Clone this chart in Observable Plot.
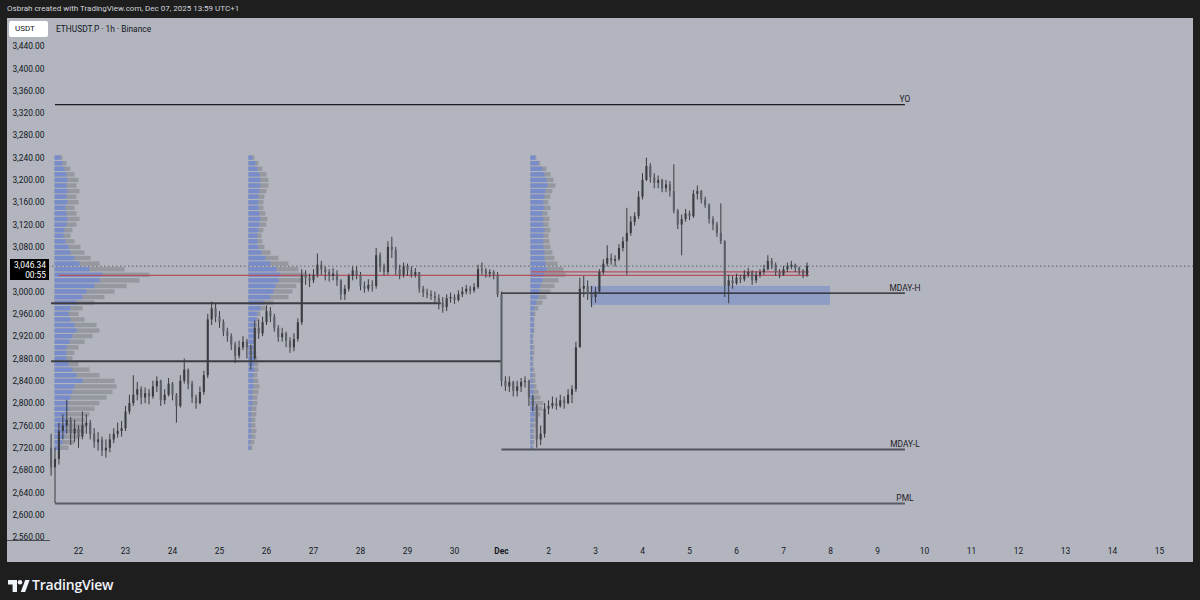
<!DOCTYPE html>
<html><head><meta charset="utf-8">
<script src="https://cdn.jsdelivr.net/npm/d3@7"></script>
<script src="https://cdn.jsdelivr.net/npm/@observablehq/plot@0.6"></script>
<style>
html,body{margin:0;padding:0;}
body{background:#1e1e1e;width:1200px;height:600px;overflow:hidden;position:relative;font-family:Roboto,"Liberation Sans",sans-serif;}
#header{position:absolute;left:7px;top:4px;font-size:8px;color:#d1d4dc;white-space:nowrap;}
#panel{position:absolute;left:7px;top:18px;width:1186px;height:544px;background:#b2b5be;overflow:hidden;}
#chart{position:absolute;left:0;top:0;}
#sym{position:absolute;left:49px;top:6px;font-size:8.4px;color:#131722;white-space:nowrap;}
#usdt{position:absolute;left:2px;top:3px;width:39px;height:16px;background:#fff;border-radius:2px;font-size:8px;color:#131722;line-height:16px;text-indent:6px;}
#pricebox{position:absolute;left:3px;width:39px;height:21px;background:#000;color:#fff;font-size:8.4px;line-height:10px;text-align:right;box-sizing:border-box;padding:1px 3px 0 0;}
#ybase{position:absolute;left:0;top:522px;width:43px;height:1px;background:#4a4d55;}
#logo{position:absolute;left:8px;top:580px;}
#logotext{position:absolute;left:32px;top:575px;font-size:14px;font-weight:600;color:#f0f3fa;font-family:"Open Sans",Roboto,sans-serif;letter-spacing:-0.2px;}
</style></head>
<body>
<div id="header">Osbrah created with TradingView.com, Dec 07, 2025 13:59 UTC+1</div>
<div id="panel">
  <div id="chart"></div>
  <div id="usdt">USDT</div>
  <div id="sym">ETHUSDT.P · 1h · Binance</div>
  <div id="ybase"></div>
</div>
<svg id="logo" width="22" height="12" viewBox="0 0 22 12">
  <path d="M0 0h9v12H4.6V4.4H0z" fill="#f0f3fa"/>
  <circle cx="12" cy="2.3" r="2.3" fill="#f0f3fa"/>
  <path d="M12.8 12L17.2 0H21.6L17.2 12z" fill="#f0f3fa"/>
</svg>
<div id="logotext">TradingView</div>
<script>
// ---- data ----
const candleStart = "2025-11-21T10:00:00Z"; // 2h candles
const candleHours = 2;
const firstOpen = 2720;
const closes = [
2685,2700,2750,2760,2770,2745,2755,2740,2760,2765,
2745,2730,2735,2715,2720,2735,2745,2750,2755,2785,
2800,2815,2825,2810,2818,2812,2830,2840,2805,2815,
2835,2815,2795,2840,2860,2835,2810,2800,2820,2850,
2950,2970,2955,2945,2928,2920,2905,2885,2900,2910,
2900,2880,2935,2925,2945,2965,2955,2935,2918,2925,
2912,2900,2915,2945,3030,3025,3020,3030,3048,3040,
3035,3028,3032,3020,2995,3005,3028,3038,3030,3010,
3005,3012,3010,3065,3045,3035,3080,3075,3040,3030,
3045,3038,3030,3035,3005,2998,2995,2992,2988,2980,
2972,2988,2990,2985,2995,3000,3005,3002,3008,3040,
3038,3032,3035,3030,2995,2840,2830,2838,2822,2830,
2838,2840,2810,2795,2735,2745,2790,2795,2800,2795,
2805,2800,2815,2825,2900,3005,3010,2995,2990,3000,
3035,3050,3060,3055,3058,3078,3090,3105,3125,3135,
3170,3200,3225,3205,3195,3200,3185,3192,3180,3145,
3120,3130,3140,3135,3175,3180,3165,3155,3130,3120,
3105,3090,3010,3020,3015,3025,3022,3030,3035,3020,
3030,3035,3040,3055,3048,3035,3030,3040,3045,3048,
3042,3038,3030,3046.34];
const highs = [
2745,2720,2765,2780,2806,2775,2770,2760,2785,2780,
2770,2755,2748,2740,2735,2745,2755,2765,2768,2795,
2815,2850,2838,2830,2828,2825,2840,2848,2842,2825,
2845,2838,2818,2850,2880,2862,2840,2815,2830,2858,
2960,2982,2978,2965,2950,2935,2925,2910,2912,2920,
2915,2905,2948,2950,2955,2975,2972,2960,2940,2935,
2928,2918,2925,2952,3040,3038,3032,3040,3068,3055,
3045,3040,3042,3038,3022,3012,3032,3045,3045,3035,
3018,3022,3020,3078,3070,3050,3090,3098,3080,3048,
3052,3050,3045,3042,3035,3010,3005,3002,3000,2995,
2990,2995,2998,2995,3002,3008,3012,3010,3015,3048,
3052,3042,3040,3038,3035,3000,2848,2848,2840,2840,
2845,2848,2842,2815,2798,2760,2800,2805,2812,2810,
2815,2812,2825,2832,2910,3025,3028,3020,3010,3008,
3040,3058,3083,3068,3065,3085,3098,3150,3135,3142,
3180,3212,3240,3230,3212,3208,3202,3200,3198,3228,
3148,3138,3148,3145,3182,3190,3182,3170,3158,3135,
3125,3158,3092,3030,3028,3032,3030,3038,3042,3038,
3036,3040,3048,3065,3060,3052,3040,3046,3052,3055,
3050,3045,3040,3052];
const lows = [
2670,2621,2690,2735,2745,2725,2730,2720,2735,2745,
2735,2720,2715,2705,2702,2712,2728,2738,2740,2750,
2780,2795,2805,2798,2800,2798,2808,2820,2795,2798,
2812,2805,2765,2792,2835,2825,2800,2790,2798,2815,
2845,2940,2945,2935,2920,2910,2895,2872,2880,2895,
2880,2860,2878,2915,2920,2940,2945,2928,2910,2910,
2900,2890,2893,2910,2940,3012,3008,3015,3025,3030,
3020,3018,3020,3010,2985,2985,3000,3020,3022,3002,
2998,3000,3000,3005,3035,3028,3030,3060,3030,3022,
3025,3028,3025,3025,2998,2990,2988,2985,2980,2968,
2962,2965,2980,2978,2982,2990,2995,2995,2998,3005,
3030,3025,3025,3022,2990,2830,2822,2820,2812,2812,
2820,2828,2795,2785,2720,2725,2738,2780,2790,2788,
2792,2790,2798,2800,2820,2950,2990,2985,2972,2980,
2998,3030,3045,3048,3045,3055,3072,3030,3100,3118,
3130,3165,3198,3195,3185,3185,3178,3178,3170,3140,
3112,3065,3125,3128,3132,3165,3158,3150,3122,3110,
3098,3085,2990,2979,3005,3012,3015,3018,3025,3012,
3015,3025,3030,3038,3040,3028,3024,3028,3035,3040,
3035,3030,3024,3026];

const lastPrice = 3046.34;
const lastPriceLabel = "3,046.34";
const countdownLabel = "00:55";

// volume profiles (price rows every 10, top to bottom)
const profileTop = 3240, profileStep = 10;
const profileAnchors = ["2025-11-21T12:00:00Z","2025-11-25T15:00:00Z","2025-12-01T15:00:00Z"];
const profile1Total = [8,12,16,20,24,22,25,22,24,20, 22,25,22,18,16,20,26,30,36,45, 70,95,85,72,60,50,40,28,24,30, 42,45,38,30,24,20,18,24,35,45, 60,62,58,52,45,40,35,30,32,30, 26,20,14];
const profile1Up =    [6,8,10,12,13,12,13,12,13,11, 12,13,12,10,9,11,14,16,20,25, 35,48,45,40,32,28,22,16,14,16, 20,22,18,15,12,12,12,14,18,22, 28,20,18,16,14,14,12,12,12,12, 10,8,6];
const profile2Total = [6,10,14,18,20,20,18,16,15,15, 17,19,18,15,13,14,16,22,30,40, 50,58,55,48,44,40,25,18,12,10, 9,8,8,7,7,8,9,10,10,9, 10,11,10,9,9,8,8,7,7,8, 7,6,4];
const profile2Up =    [4,7,9,11,12,12,11,10,10,10, 11,12,11,10,9,9,10,13,17,22, 28,32,30,27,25,22,15,12,9,8, 7,6,6,5,5,5,6,6,6,5, 5,5,4,4,4,3,3,3,3,3, 3,2,2];
const profile3Total = [6,10,16,20,23,25,22,20,18,20, 17,19,18,20,18,19,20,22,24,27, 33,35,28,24,20,16,12,8,5,4, 4,4,3,3,4,4,3,3,4,5, 5,6,8,10,13,12,10,7,5,4, 4,4,3];
const profile3Up =    [5,8,12,14,16,17,15,14,13,14, 12,13,13,14,13,13,13,14,14,15, 16,14,12,10,9,8,6,4,3,3, 3,3,2,2,2,2,2,2,2,2, 2,3,3,3,4,4,4,3,2,2, 2,2,2];

// horizontal levels
const levelNames  = ["YO","MDAY-H","MDAY-L","PML","",""];
const levelValues = [3336, 2998, 2718, 2621, 2980, 2876];
const levelStarts = ["2025-11-21T12:00:00Z","2025-12-01T00:00:00Z","2025-12-01T00:00:00Z","2025-11-21T12:00:00Z","2025-11-21T10:00:00Z","2025-11-21T10:00:00Z"];
const levelEnds   = ["2025-12-09T14:00:00Z","2025-12-09T14:00:00Z","2025-12-09T14:00:00Z","2025-12-09T14:00:00Z","2025-11-29T17:00:00Z","2025-12-01T00:00:00Z"];
const pocValues = [3030, 3036];
const pocStarts = ["2025-11-21T14:00:00Z","2025-12-01T15:00:00Z"];
const pocEnd = "2025-12-07T13:00:00Z";
const zoneLow = 2976, zoneHigh = 3010;
const zoneStart = "2025-12-02T21:30:00Z", zoneEnd = "2025-12-08T00:00:00Z";

const yTicks = [3440,3400,3360,3320,3280,3240,3200,3160,3120,3080,3000,2960,2920,2880,2840,2800,2760,2720,2680,2640,2600,2560];
const dayTicks = ["2025-11-22","2025-11-23","2025-11-24","2025-11-25","2025-11-26","2025-11-27","2025-11-28","2025-11-29","2025-11-30","2025-12-01","2025-12-02","2025-12-03","2025-12-04","2025-12-05","2025-12-06","2025-12-07","2025-12-08","2025-12-09","2025-12-10","2025-12-11","2025-12-12","2025-12-13","2025-12-14","2025-12-15"];
const dayLabels = ["22","23","24","25","26","27","28","29","30","Dec","2","3","4","5","6","7","8","9","10","11","12","13","14","15"];

// ---- build ----
const H = 3600e3, D = 864e5;
const t0 = new Date(candleStart).getTime();
const candles = closes.map((c, i) => {
  const o = i === 0 ? firstOpen : closes[i-1];
  return {t: new Date(t0 + i*candleHours*H), open:o, close:c,
          high: Math.max(highs[i], o, c), low: Math.min(lows[i], o, c), up: c >= o};
});
const volDays = 1/47; // width of one volume unit, in days
const profTot = [profile1Total, profile2Total, profile3Total];
const profUp = [profile1Up, profile2Up, profile3Up];
const rows = [];
profileAnchors.forEach((a, k) => {
  const at = new Date(a).getTime();
  profTot[k].forEach((v, j) => {
    const p = profileTop - j*profileStep;
    rows.push({x1:new Date(at), xt:new Date(at + v*volDays*D), xu:new Date(at + profUp[k][j]*volDays*D), y1:p-profileStep/2, y2:p+profileStep/2});
  });
});
const levels = levelValues.map((v,i)=>({name:levelNames[i], v, x1:new Date(levelStarts[i]), x2:new Date(levelEnds[i])}));
const pocs = pocValues.map((v,i)=>({v, x1:new Date(pocStarts[i]), x2:new Date(pocEnd)}));
const dayDates = dayTicks.map(d => new Date(d+"T00:00:00Z"));
const labelOf = new Map(dayDates.map((d,i)=>[+d, dayLabels[i]]));
const dec1 = Date.UTC(2025,11,1);
const xDomain = [new Date(dec1 + (-453/47)*D), new Date(dec1 + (692/47)*D)];
const levelStyle = {"YO":["#1c1d21",1.3],"MDAY-H":["#1c1d21",1.3],"MDAY-L":["#50535b",2],"PML":["#5a5d65",2]};

const plot = Plot.plot({
  width:1186, height:544, marginLeft:41, marginRight:0, marginTop:0, marginBottom:22,
  style:{background:"transparent", color:"#131722", fontFamily:"Roboto, 'Liberation Sans', sans-serif", fontSize:"8.4px", overflow:"visible"},
  x:{type:"utc", domain:xDomain},
  y:{domain:[2554.7, 3490.18]},
  marks:[
    Plot.ruleY([lastPrice], {stroke:"#5f626a", strokeWidth:1, strokeDasharray:"1.5,2.5"}),
    Plot.rect([0], {x1:()=>new Date(zoneStart), x2:()=>new Date(zoneEnd), y1:()=>zoneLow, y2:()=>zoneHigh, fill:"#3f63cf", fillOpacity:0.3}),
    Plot.rect(rows, {x1:"x1", x2:"xt", y1:"y1", y2:"y2", fill:"#8e9199", fillOpacity:0.8, insetTop:0.6, insetBottom:0.6}),
    Plot.rect(rows, {x1:"x1", x2:"xu", y1:"y1", y2:"y2", fill:"#7189d4", fillOpacity:0.8, insetTop:0.6, insetBottom:0.6}),
    Plot.link(pocs, {x1:"x1", x2:"x2", y1:"v", y2:"v", stroke:"#b4505c", strokeWidth:1.3}),
    Plot.link(levels, {x1:"x1", x2:"x2", y1:"v", y2:"v",
      stroke: d => (levelStyle[d.name]||["#3c3e44",2])[0],
      strokeWidth: d => (levelStyle[d.name]||["#3c3e44",2])[1]}),
    Plot.ruleX(candles, {x:"t", y1:"low", y2:"high", stroke:"#3a3c42", strokeWidth:1}),
    Plot.ruleX(candles, {x:"t", y1:"open", y2:"close", stroke:d=>d.up?"#3a3c42":"#5c5f67", strokeWidth:2.1}),
    Plot.text(levels.filter(d=>d.name), {x:"x2", y:"v", text:"name", dy:-5, fill:"#1f2126", fontSize:8.4}),
    Plot.axisY(yTicks, {anchor:"left", tickSize:0, tickPadding:4, tickFormat:d3.format(",.2f")}),
    Plot.axisX(dayDates, {anchor:"bottom", tickSize:0, tickPadding:8, tickFormat:d=>labelOf.get(+d)})
  ]
});
plot.setAttribute("stroke-linecap","butt");
document.getElementById("chart").appendChild(plot);
d3.select(plot).selectAll("text").filter(function(){return this.textContent==="Dec";}).attr("font-weight","bold");
// price label box on the y scale
const py = plot.scale("y").apply(lastPrice);
const box = document.createElement("div");
box.id = "pricebox";
box.style.top = (py - 7) + "px";
box.innerHTML = lastPriceLabel + "<br>" + countdownLabel;
document.getElementById("panel").appendChild(box);
</script>
</body></html>
